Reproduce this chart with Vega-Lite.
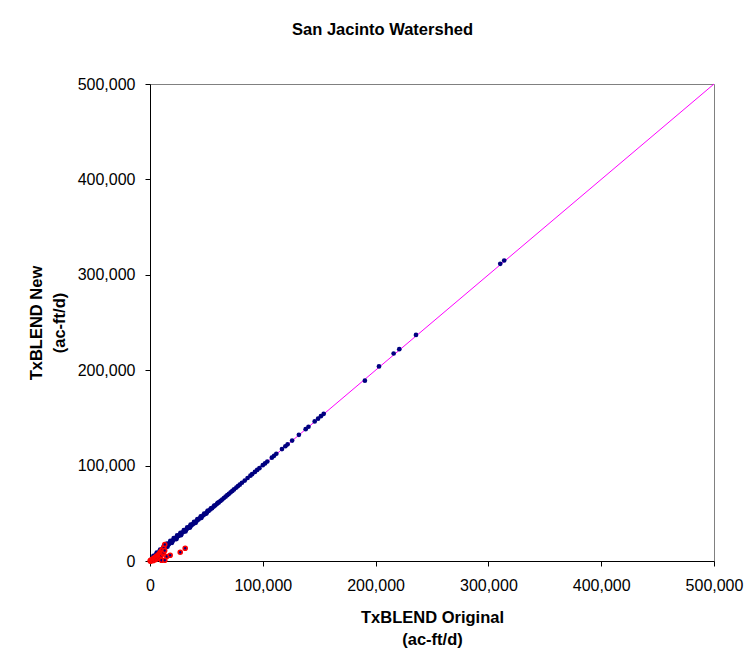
{
  "$schema": "https://vega.github.io/schema/vega-lite/v6.json",
  "autosize": "none",
  "width": 564,
  "height": 477,
  "padding": {"left": 150, "top": 84, "right": 31, "bottom": 100},
  "background": "white",
  "config": {
    "font": "Liberation Sans",
    "view": {"stroke": "#808080", "strokeWidth": 1},
    "axis": {
      "grid": false,
      "domainColor": "#000000",
      "tickColor": "#000000",
      "tickSize": 5,
      "labelColor": "#000000",
      "titleColor": "#000000",
      "labelFontSize": 16,
      "titleFontSize": 16.5,
      "titleFontWeight": "bold",
      "titleLineHeight": 23,
      "labelFlush": false,
      "labelOverlap": false
    }
  },
  "title": {
    "text": "San Jacinto Watershed",
    "fontSize": 16.5,
    "fontWeight": "bold",
    "color": "#000000",
    "anchor": "middle",
    "frame": "group",
    "dx": -49.5,
    "offset": 38
  },
  "datasets": {
    "blue": [
      {"x": 300, "y": 400}, {"x": 900, "y": 1200}, {"x": 1500, "y": 1900}, {"x": 2200, "y": 2800},
      {"x": 2800, "y": 3700}, {"x": 3500, "y": 4200}, {"x": 4200, "y": 5300}, {"x": 5000, "y": 5600},
      {"x": 5600, "y": 6900}, {"x": 6300, "y": 7000}, {"x": 7000, "y": 8400}, {"x": 7800, "y": 8600},
      {"x": 8500, "y": 10000}, {"x": 9300, "y": 10100}, {"x": 10000, "y": 11600}, {"x": 10800, "y": 11500},
      {"x": 11500, "y": 13200}, {"x": 12300, "y": 13100}, {"x": 13000, "y": 14800}, {"x": 13800, "y": 14500},
      {"x": 14500, "y": 16200}, {"x": 15300, "y": 16000}, {"x": 16000, "y": 17800}, {"x": 16800, "y": 17500},
      {"x": 17500, "y": 19200}, {"x": 18300, "y": 19000}, {"x": 19000, "y": 20600}, {"x": 20000, "y": 20800},
      {"x": 21000, "y": 22500}, {"x": 22000, "y": 22900}, {"x": 23000, "y": 24400}, {"x": 24000, "y": 24800},
      {"x": 25000, "y": 26300}, {"x": 26000, "y": 26800}, {"x": 27000, "y": 28200}, {"x": 28000, "y": 28700},
      {"x": 29000, "y": 30100}, {"x": 30000, "y": 30800}, {"x": 31000, "y": 32000}, {"x": 32000, "y": 32700},
      {"x": 33000, "y": 34000}, {"x": 34000, "y": 34600}, {"x": 35000, "y": 35900}, {"x": 36000, "y": 36600},
      {"x": 37000, "y": 37800}, {"x": 38000, "y": 38600}, {"x": 39000, "y": 39700}, {"x": 40000, "y": 40600},
      {"x": 41000, "y": 41600}, {"x": 42000, "y": 42600}, {"x": 43000, "y": 43600}, {"x": 44500, "y": 45000},
      {"x": 46000, "y": 46600}, {"x": 47500, "y": 48000}, {"x": 49000, "y": 49500}, {"x": 50500, "y": 51000},
      {"x": 52000, "y": 52500}, {"x": 53500, "y": 54000}, {"x": 55000, "y": 55400}, {"x": 56500, "y": 57000},
      {"x": 58000, "y": 58400}, {"x": 59500, "y": 60000}, {"x": 61000, "y": 61400}, {"x": 62500, "y": 63000},
      {"x": 64000, "y": 64400}, {"x": 65500, "y": 66000}, {"x": 67000, "y": 67400}, {"x": 68500, "y": 69000},
      {"x": 70000, "y": 70400}, {"x": 71500, "y": 72000}, {"x": 73000, "y": 73500}, {"x": 74500, "y": 75000},
      {"x": 76500, "y": 77000}, {"x": 78000, "y": 78500}, {"x": 79600, "y": 80000}, {"x": 81500, "y": 82000},
      {"x": 84000, "y": 84300}, {"x": 86500, "y": 87000}, {"x": 89000, "y": 89400}, {"x": 90500, "y": 91000},
      {"x": 93000, "y": 93400}, {"x": 95000, "y": 95500}, {"x": 97000, "y": 97300}, {"x": 100000, "y": 100400},
      {"x": 102000, "y": 102300}, {"x": 104000, "y": 104300}, {"x": 108000, "y": 108300}, {"x": 110000, "y": 110200},
      {"x": 112000, "y": 112400}, {"x": 117000, "y": 117300}, {"x": 120000, "y": 120300}, {"x": 122000, "y": 122300},
      {"x": 126000, "y": 126200}, {"x": 132000, "y": 132300}, {"x": 138000, "y": 138200}, {"x": 140500, "y": 140700},
      {"x": 146000, "y": 146300}, {"x": 149000, "y": 149200}, {"x": 151500, "y": 151800}, {"x": 154000, "y": 154300},
      {"x": 190500, "y": 189000}, {"x": 203000, "y": 204000}, {"x": 216000, "y": 217500}, {"x": 221000, "y": 222000},
      {"x": 235800, "y": 237000}, {"x": 310500, "y": 311500}, {"x": 314000, "y": 315000},
      {"x": 3000, "y": 5500}, {"x": 6000, "y": 8800}, {"x": 9000, "y": 12000}, {"x": 12000, "y": 15200},
      {"x": 15000, "y": 18200}, {"x": 18000, "y": 21000}, {"x": 21000, "y": 23900}, {"x": 24000, "y": 26800},
      {"x": 27000, "y": 29600}, {"x": 30000, "y": 32500}, {"x": 33000, "y": 35300}, {"x": 36000, "y": 38200},
      {"x": 39000, "y": 41000}, {"x": 42000, "y": 43900}, {"x": 45000, "y": 46800}, {"x": 48000, "y": 49600},
      {"x": 51000, "y": 52500}, {"x": 54000, "y": 55300}, {"x": 57000, "y": 58200}, {"x": 60000, "y": 61000},
      {"x": 4500, "y": 4000}, {"x": 8000, "y": 7600}, {"x": 11500, "y": 11000}, {"x": 15500, "y": 15000},
      {"x": 19500, "y": 19000}, {"x": 23500, "y": 23000}, {"x": 27500, "y": 27000}, {"x": 31500, "y": 31000},
      {"x": 35500, "y": 35000}, {"x": 40500, "y": 40000}, {"x": 45500, "y": 45100}, {"x": 50000, "y": 49700}
    ],
    "red": [
      {"x": 200, "y": 100}, {"x": 500, "y": 300}, {"x": 800, "y": 500}, {"x": 1000, "y": 200},
      {"x": 1200, "y": 900}, {"x": 1500, "y": 1000}, {"x": 2000, "y": 1500}, {"x": 2000, "y": 600},
      {"x": 2500, "y": 1800}, {"x": 3000, "y": 2200}, {"x": 3000, "y": 500}, {"x": 3500, "y": 2800},
      {"x": 4000, "y": 3000}, {"x": 4000, "y": 1500}, {"x": 4500, "y": 3500}, {"x": 5000, "y": 3800},
      {"x": 5000, "y": 1500}, {"x": 5500, "y": 4500}, {"x": 6000, "y": 4800}, {"x": 6000, "y": 2500},
      {"x": 6500, "y": 5500}, {"x": 7000, "y": 5800}, {"x": 7000, "y": 3000}, {"x": 7500, "y": 6500},
      {"x": 8000, "y": 7000}, {"x": 8000, "y": 4000}, {"x": 8500, "y": 7800}, {"x": 9000, "y": 8500},
      {"x": 9000, "y": 5000}, {"x": 9500, "y": 9500}, {"x": 10000, "y": 10500}, {"x": 10000, "y": 6000},
      {"x": 11000, "y": 12000}, {"x": 11000, "y": 8000}, {"x": 12000, "y": 9000}, {"x": 12200, "y": 13800},
      {"x": 13000, "y": 11000}, {"x": 13100, "y": 17300}, {"x": 10200, "y": 800}, {"x": 13100, "y": 800},
      {"x": 14900, "y": 4700}, {"x": 17900, "y": 6100}, {"x": 26800, "y": 9200}, {"x": 31200, "y": 13400}
    ],
    "line": [
      {"x": 0, "y": 0}, {"x": 500000, "y": 500000}
    ]
  },
  "layer": [
    {
      "data": {"name": "line"},
      "mark": {"type": "line", "color": "#ff00ff", "strokeWidth": 1},
      "encoding": {
        "x": {
          "field": "x", "type": "quantitative",
          "scale": {"domain": [0, 500000], "nice": false, "zero": true},
          "axis": {
            "values": [0, 100000, 200000, 300000, 400000, 500000],
            "format": ",d",
            "labelPadding": 11,
            "title": ["TxBLEND Original", "(ac-ft/d)"],
            "titlePadding": 16,
            "titleLineHeight": 22
          }
        },
        "y": {
          "field": "y", "type": "quantitative",
          "scale": {"domain": [0, 500000], "nice": false, "zero": true},
          "axis": {
            "values": [0, 100000, 200000, 300000, 400000, 500000],
            "format": ",d",
            "labelPadding": 10,
            "title": ["TxBLEND New", "(ac-ft/d)"],
            "titlePadding": 10
          }
        }
      }
    },
    {
      "data": {"name": "blue"},
      "mark": {"type": "point", "filled": true, "color": "#000080", "size": 22, "opacity": 1},
      "encoding": {
        "x": {"field": "x", "type": "quantitative"},
        "y": {"field": "y", "type": "quantitative"}
      }
    },
    {
      "data": {"name": "red"},
      "mark": {"type": "point", "filled": true, "fill": "#000080", "stroke": "#ff0000", "strokeWidth": 1.6, "size": 16, "opacity": 1},
      "encoding": {
        "x": {"field": "x", "type": "quantitative"},
        "y": {"field": "y", "type": "quantitative"}
      }
    }
  ]
}
